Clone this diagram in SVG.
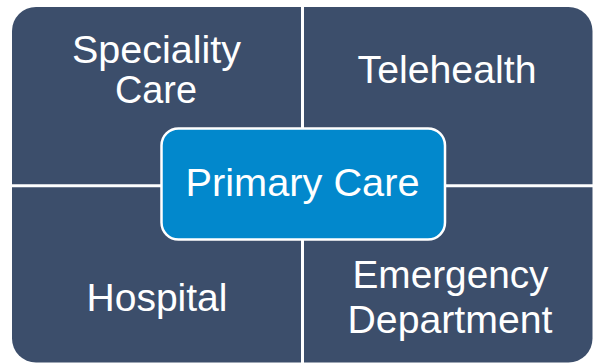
<svg xmlns="http://www.w3.org/2000/svg" width="593" height="364" viewBox="0 0 593 364">
<style>
.q{fill:#3c4e6b}
.t{fill:#ffffff;font-family:"Liberation Sans",Arial,sans-serif;font-size:39px;text-anchor:middle}
.c{fill:#0288cc;stroke:#ffffff;stroke-width:2.5}
</style>
<rect width="593" height="364" fill="#ffffff"/>
<g id="speciality-care">
<path class="q" d="M12,31 A24,24 0 0 1 36,7 L301,7 L301,184.2 L12,184.2 Z"/>
<text class="t" x="156.5" y="63" textLength="169" lengthAdjust="spacingAndGlyphs">Speciality</text>
<text class="t" x="156" y="103" textLength="82" lengthAdjust="spacingAndGlyphs">Care</text>
</g>
<g id="telehealth">
<path class="q" d="M304,7 L568.5,7 A24,24 0 0 1 592.5,31 L592.5,184.2 L304,184.2 Z"/>
<text class="t" x="447" y="83" textLength="179" lengthAdjust="spacingAndGlyphs">Telehealth</text>
</g>
<g id="hospital">
<path class="q" d="M12,187.2 L301,187.2 L301,362.5 L36,362.5 A24,24 0 0 1 12,338.5 Z"/>
<text class="t" x="157" y="311" textLength="141" lengthAdjust="spacingAndGlyphs">Hospital</text>
</g>
<g id="emergency-department">
<path class="q" d="M304,187.2 L592.5,187.2 L592.5,338.5 A24,24 0 0 1 568.5,362.5 L304,362.5 Z"/>
<text class="t" x="450.5" y="288" textLength="196" lengthAdjust="spacingAndGlyphs">Emergency</text>
<text class="t" x="450" y="333" textLength="205" lengthAdjust="spacingAndGlyphs">Department</text>
</g>
<g id="primary-care">
<rect class="c" x="161.5" y="128.5" width="283.5" height="111" rx="17"/>
<text class="t" x="302.5" y="196" textLength="234" lengthAdjust="spacingAndGlyphs">Primary Care</text>
</g>
<g id="connectors"></g>
</svg>
